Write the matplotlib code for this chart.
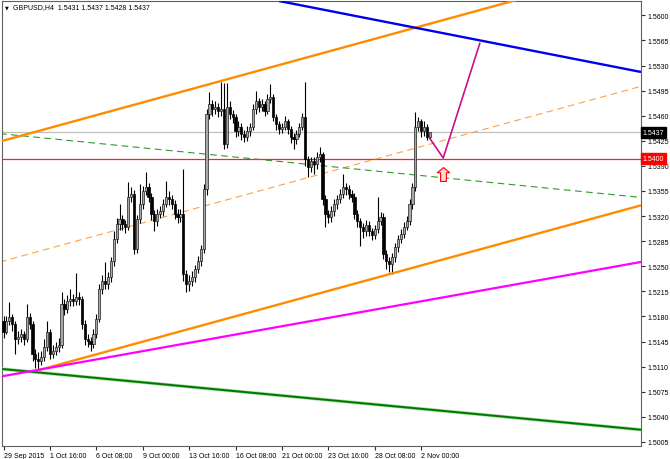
import matplotlib
matplotlib.use("Agg")
import matplotlib.pyplot as plt
import numpy as np

# GBPUSD H4, 29 Sep 2015 00:00 onwards (bar index = one H4 candle)
closes = [
    1.5159, 1.5174, 1.5179, 1.5170, 1.5149, 1.5152, 1.5156, 1.5149, 1.5179, 1.5170,
    1.5128, 1.5121, 1.5118, 1.5124, 1.5138, 1.5159, 1.5128, 1.5132, 1.5138, 1.5140,
    1.5197, 1.5190, 1.5202, 1.5204, 1.5202, 1.5207, 1.5204, 1.5170, 1.5149, 1.5146,
    1.5142, 1.5156, 1.5177, 1.5218, 1.5230, 1.5225, 1.5235, 1.5257, 1.5288, 1.5309,
    1.5316, 1.5309, 1.5305, 1.5347, 1.5351, 1.5274, 1.5316, 1.5337, 1.5355, 1.5360,
    1.5347, 1.5323, 1.5313, 1.5323, 1.5327, 1.5337, 1.5347, 1.5344, 1.5337, 1.5323,
    1.5319, 1.5323, 1.5239, 1.5225, 1.5230, 1.5235, 1.5246, 1.5257, 1.5274, 1.5358,
    1.5462, 1.5476, 1.5469, 1.5472, 1.5466, 1.5469, 1.5420, 1.5472, 1.5462, 1.5458,
    1.5438, 1.5444, 1.5434, 1.5430, 1.5438, 1.5444, 1.5469, 1.5480, 1.5472, 1.5476,
    1.5466, 1.5483, 1.5486, 1.5458, 1.5448, 1.5441, 1.5444, 1.5452, 1.5441, 1.5430,
    1.5427, 1.5434, 1.5444, 1.5458, 1.5399, 1.5388, 1.5397, 1.5392, 1.5402, 1.5406,
    1.5344, 1.5323, 1.5319, 1.5327, 1.5337, 1.5344, 1.5351, 1.5360, 1.5358, 1.5351,
    1.5347, 1.5323, 1.5313, 1.5305, 1.5299, 1.5308, 1.5299, 1.5294, 1.5302, 1.5313,
    1.5319, 1.5267, 1.5257, 1.5253, 1.5263, 1.5277, 1.5288, 1.5295, 1.5305, 1.5313,
    1.5337, 1.5360, 1.5444, 1.5452, 1.5438, 1.5444, 1.5431, 1.5437,
]
highs = [
    1.5180, 1.5180, 1.5200, 1.5184, 1.5173, 1.5160, 1.5162, 1.5160, 1.5197, 1.5185,
    1.5174, 1.5135, 1.5130, 1.5132, 1.5149, 1.5174, 1.5163, 1.5140, 1.5145, 1.5150,
    1.5214, 1.5204, 1.5210, 1.5218, 1.5212, 1.5240, 1.5214, 1.5209, 1.5175, 1.5156,
    1.5152, 1.5162, 1.5184, 1.5225, 1.5238, 1.5256, 1.5242, 1.5263, 1.5299, 1.5318,
    1.5337, 1.5322, 1.5315, 1.5367, 1.5360, 1.5356, 1.5322, 1.5365, 1.5362, 1.5381,
    1.5366, 1.5352, 1.5328, 1.5330, 1.5334, 1.5344, 1.5369, 1.5355, 1.5350, 1.5342,
    1.5330, 1.5330, 1.5385, 1.5245, 1.5238, 1.5244, 1.5252, 1.5264, 1.5280, 1.5365,
    1.5470, 1.5493, 1.5482, 1.5480, 1.5478, 1.5507, 1.5505, 1.5505, 1.5480, 1.5468,
    1.5462, 1.5452, 1.5450, 1.5440, 1.5445, 1.5450, 1.5476, 1.5494, 1.5485, 1.5484,
    1.5480, 1.5490, 1.5504, 1.5490, 1.5462, 1.5452, 1.5450, 1.5460, 1.5456, 1.5446,
    1.5436, 1.5440, 1.5450, 1.5464, 1.5507, 1.5404, 1.5403, 1.5402, 1.5410, 1.5416,
    1.5410, 1.5350, 1.5328, 1.5334, 1.5344, 1.5350, 1.5358, 1.5378, 1.5366, 1.5364,
    1.5356, 1.5352, 1.5328, 1.5318, 1.5310, 1.5314, 1.5313, 1.5304, 1.5308, 1.5347,
    1.5326, 1.5324, 1.5272, 1.5263, 1.5268, 1.5282, 1.5294, 1.5302, 1.5312, 1.5320,
    1.5344, 1.5366, 1.5465, 1.5458, 1.5456, 1.5452, 1.5448, 1.5437,
]
lows = [
    1.5150, 1.5155, 1.5168, 1.5160, 1.5128, 1.5142, 1.5145, 1.5140, 1.5145, 1.5162,
    1.5118, 1.5108, 1.5104, 1.5112, 1.5118, 1.5132, 1.5120, 1.5122, 1.5126, 1.5130,
    1.5136, 1.5182, 1.5185, 1.5195, 1.5194, 1.5196, 1.5196, 1.5162, 1.5140, 1.5138,
    1.5132, 1.5136, 1.5150, 1.5172, 1.5212, 1.5218, 1.5218, 1.5228, 1.5250, 1.5282,
    1.5300, 1.5300, 1.5296, 1.5300, 1.5340, 1.5267, 1.5268, 1.5310, 1.5330, 1.5350,
    1.5340, 1.5315, 1.5299, 1.5306, 1.5318, 1.5320, 1.5332, 1.5336, 1.5330, 1.5316,
    1.5310, 1.5312, 1.5230, 1.5214, 1.5216, 1.5222, 1.5228, 1.5240, 1.5250, 1.5268,
    1.5350, 1.5455, 1.5460, 1.5462, 1.5458, 1.5460, 1.5413, 1.5415, 1.5455, 1.5450,
    1.5430, 1.5432, 1.5426, 1.5424, 1.5425, 1.5432, 1.5440, 1.5462, 1.5465, 1.5466,
    1.5460, 1.5462, 1.5478, 1.5452, 1.5440, 1.5434, 1.5436, 1.5440, 1.5435, 1.5422,
    1.5413, 1.5420, 1.5430, 1.5440, 1.5390, 1.5374, 1.5382, 1.5378, 1.5386, 1.5396,
    1.5336, 1.5305, 1.5310, 1.5312, 1.5320, 1.5330, 1.5338, 1.5345, 1.5350, 1.5344,
    1.5340, 1.5316, 1.5305, 1.5278, 1.5290, 1.5292, 1.5292, 1.5286, 1.5288, 1.5296,
    1.5308, 1.5260, 1.5246, 1.5242, 1.5239, 1.5256, 1.5270, 1.5282, 1.5290, 1.5300,
    1.5308, 1.5330, 1.5355, 1.5438, 1.5430, 1.5432, 1.5426, 1.5428,
]
first_open = 1.5174
opens = [first_open] + closes[:-1]

# drawn objects: (bar, price) end points
upper_channel = [(-1.2, 1.5424), (219.8, 1.5669)]
mid_channel = [(-1.2, 1.5256), (219.8, 1.5501)]
lower_channel = [(12.0, 1.5105), (219.8, 1.5335)]
blue_line = [(95.0, 1.5620), (219.8, 1.5521)]
green_dashed = [(-1.2, 1.5435), (219.8, 1.5346)]
green_line = [(-1.2, 1.5107), (219.8, 1.5022)]
magenta_line = [(-1.2, 1.5096), (219.8, 1.5256)]
forecast_path = [(146.7, 1.5430), (151.6, 1.5401), (164.3, 1.5562)]
signal_arrow = (151.6, 1.5379)

bid_price = 1.5437
level_price = 1.5400

y_ticks = [1.5005, 1.5040, 1.5075, 1.5110, 1.5145, 1.5180, 1.5215, 1.5250,
           1.5285, 1.5320, 1.5355, 1.5390, 1.5425, 1.5460, 1.5495, 1.5530,
           1.5565, 1.5600]
x_tick_bars = [0, 16, 32, 48, 64, 80, 96, 112, 128, 144]
x_tick_labels = ["29 Sep 2015", "1 Oct 16:00", "6 Oct 08:00", "9 Oct 00:00",
                 "13 Oct 16:00", "16 Oct 08:00", "21 Oct 00:00", "23 Oct 16:00",
                 "28 Oct 08:00", "2 Nov 00:00"]

plt.rcParams['font.family'] = ['Liberation Sans', 'DejaVu Sans']
fs = 5

fig = plt.figure(figsize=(6.7, 4.6), dpi=100)
ax = fig.add_axes([2 / 670, 13.5 / 460, 639 / 670, 444.5 / 460])
ax.set_xlim(-0.52, 219.8)
ax.set_ylim(1.5000, 1.5620)

# candles
x = np.arange(len(closes))
o = np.array(opens)
c = np.array(closes)
bull = c >= o
ax.vlines(x, lows, highs, color="black", linewidth=0.8, zorder=3)
body_lo = np.minimum(o, c)
body_h = np.maximum(np.abs(c - o), 0.00006)
ax.bar(x[bull], body_h[bull], bottom=body_lo[bull], width=0.75,
       color="#a8a8a8", edgecolor="#202020", linewidth=0.5, zorder=4)
ax.bar(x[~bull], body_h[~bull], bottom=body_lo[~bull], width=0.75,
       color="black", edgecolor="black", linewidth=0.5, zorder=4)


def draw(points, **kw):
    xs, ys = zip(*points)
    ax.plot(xs, ys, solid_capstyle="butt", **kw)


# horizontal lines
ax.axhline(bid_price, color="#c0c0c0", linewidth=0.9, zorder=1)
ax.axhline(level_price, color="#ff2020", linewidth=0.9, zorder=2)

draw(mid_channel, color="#ffa040", linewidth=0.8, dashes=(6, 4), zorder=2)
draw(green_dashed, color="#2e9a2e", linewidth=0.8, dashes=(6, 4), zorder=2)
draw(upper_channel, color="#ff8c00", linewidth=1.7, zorder=5)
draw(lower_channel, color="#ff8c00", linewidth=1.7, zorder=5)
draw(blue_line, color="#0000ee", linewidth=1.7, zorder=5)
draw(green_line, color="#a0d8a0", linewidth=2.4, zorder=5)
draw(green_line, color="#007800", linewidth=1.4, zorder=5)
draw(magenta_line, color="#ff00ff", linewidth=1.6, zorder=5)
draw(forecast_path, color="#cc1088", linewidth=1.2, zorder=6)

arrow = [(0, 1), (-0.9, 0.25), (-0.42, 0.25), (-0.42, -1), (0.42, -1),
         (0.42, 0.25), (0.9, 0.25), (0, 1)]
ax.plot([signal_arrow[0]], [signal_arrow[1]], marker=arrow, markersize=10,
        markerfacecolor="#ffd8d8", markeredgecolor="#ff0000",
        markeredgewidth=0.8, zorder=7)

# axes styling
for side in ("left", "top", "bottom", "right"):
    ax.spines[side].set_color("#606060")
    ax.spines[side].set_linewidth(0.8)
ax.yaxis.tick_right()
ax.set_yticks(y_ticks)
ax.set_yticklabels([f"{v:.4f}" for v in y_ticks])
ax.set_xticks(x_tick_bars)
ax.set_xticklabels(x_tick_labels, ha="left")
ax.tick_params(axis="y", direction="out", length=3, width=0.8, pad=2,
               labelsize=fs, colors="#303030", labelcolor="black")
ax.tick_params(axis="x", direction="out", length=3, width=0.8, pad=1.5,
               labelsize=fs, colors="#303030", labelcolor="black")

# price boxes
ytr = ax.get_yaxis_transform()
ax.text(1.0025, bid_price, f"{bid_price:.4f}", transform=ytr, ha="left",
        va="center", fontsize=fs, color="white", zorder=10, clip_on=False,
        bbox=dict(boxstyle="square,pad=0.3", fc="black", ec="black"))
ax.text(1.0025, level_price, f"{level_price:.4f}", transform=ytr, ha="left",
        va="center", fontsize=fs, color="white", zorder=10, clip_on=False,
        bbox=dict(boxstyle="square,pad=0.3", fc="#ff0000", ec="#ff0000"))

# header
fig.text(5 / 670, 1 - 8 / 460, "\u25bc", fontsize=3.5, va="center",
         ha="left", family="DejaVu Sans")
fig.text(13 / 670, 1 - 8 / 460, "GBPUSD,H4  1.5431 1.5437 1.5428 1.5437",
         fontsize=fs, va="center", ha="left")

fig.savefig("out.png", dpi=100, facecolor="white")
